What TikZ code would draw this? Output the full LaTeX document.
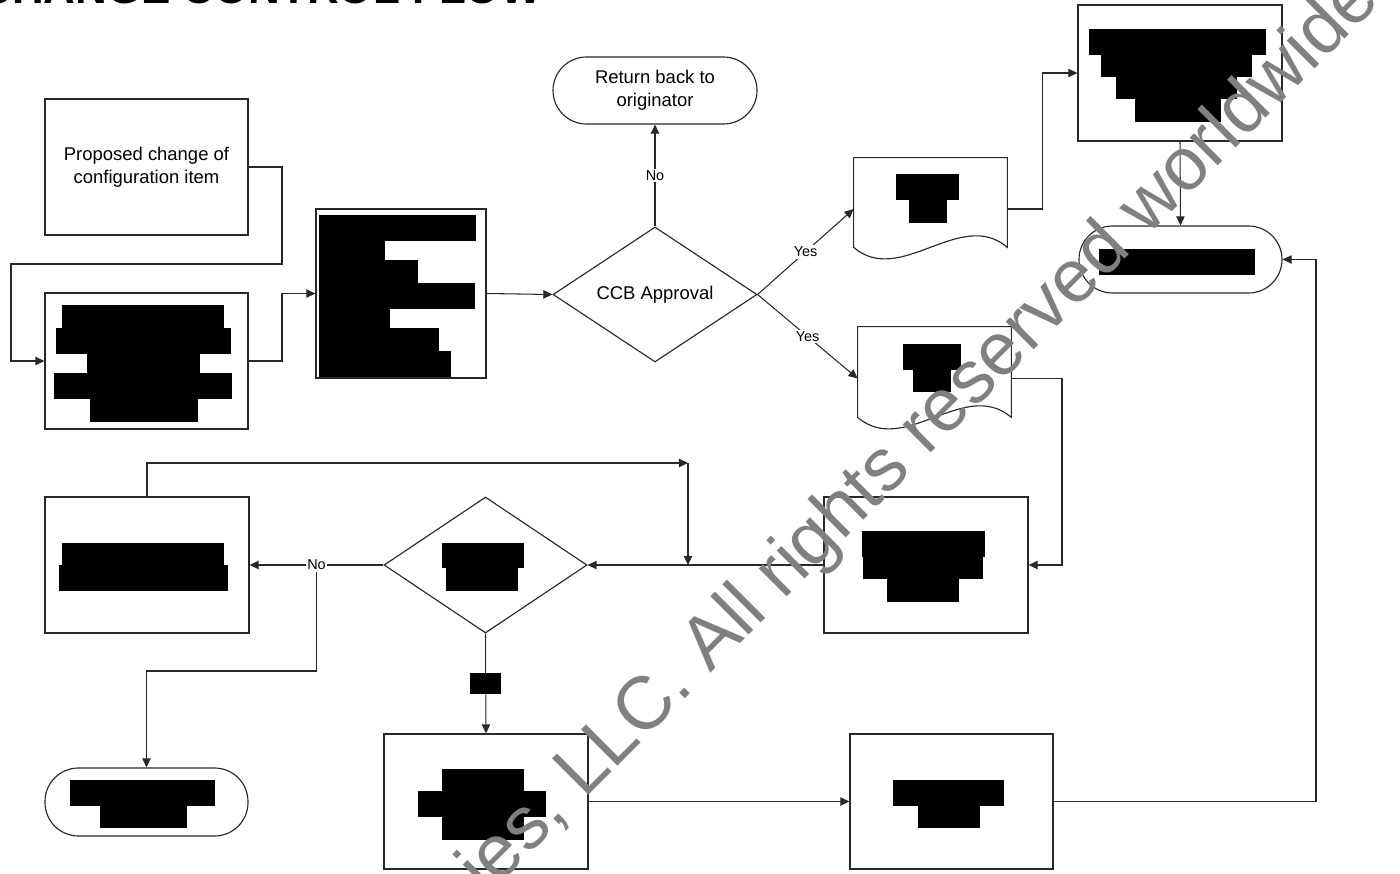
\documentclass[tikz,border=0pt]{standalone}
\usepackage{fontspec}
\setmainfont{Liberation Sans}
\usetikzlibrary{arrows.meta,shapes.geometric,calc}
\definecolor{wm}{RGB}{128,128,128}
\definecolor{ln}{RGB}{40,40,40}
\begin{document}
\begin{tikzpicture}[x=0.02cm,y=-0.02cm,
  sz/.style 2 args={minimum width=#1*0.02cm,minimum height=#2*0.02cm},
  box/.style={draw=ln,line width=0.65pt,rectangle,inner sep=0pt,align=center,
    font=\fontsize{10.5}{13}\selectfont},
  term/.style={box,rounded corners=0.67cm},
  decis/.style={box,diamond,aspect=1.5},
  ghost/.style={rectangle,inner sep=0pt},
  docline/.style={draw=ln,line width=0.65pt},
  conn/.style={draw=ln,line width=0.6pt,-{Triangle[length=5.2pt,width=4.8pt]}},
  lbl/.style={fill=white,inner sep=1pt,font=\fontsize{8.2}{9}\selectfont},
  red/.style={fill=black}
]
\useasboundingbox (0,0) rectangle (1400,873);

% title
\node[anchor=base west,inner sep=0pt,font=\fontsize{25}{25}\bfseries\selectfont] (title) at (-20,3) {CHANGE CONTROL FLOW};

% nodes
\node[box,sz={203}{136}] (prop) at (146.5,167) {Proposed change of\\configuration item};
\node[box,sz={203}{136}] (box2) at (146.5,361) {};
\node[box,sz={170}{169}] (box3) at (401,293.5) {};
\node[decis,sz={204}{135}] (dia1) at (655,294.5) {CCB Approval};
\node[term,sz={204}{67}] (ret) at (655,90.5) {Return back to\\originator};
\node[ghost,sz={153}{102}] (doc1) at (930.5,209) {};
\node[ghost,sz={153}{103}] (doc2) at (934.5,378.5) {};
\node[box,sz={204}{136}] (trbox) at (1180,73) {};
\node[term,sz={203}{67}] (term1) at (1180.5,259.5) {};
\node[box,sz={204}{136}] (boxR) at (926,565) {};
\node[decis,sz={203}{136}] (dia2) at (485.5,565) {};
\node[box,sz={204}{136}] (boxL) at (147,565) {};
\node[term,sz={203}{68}] (term2) at (146.5,802) {};
\node[box,sz={204}{135}] (boxB1) at (486,801.5) {};
\node[box,sz={203}{135}] (boxB2) at (951.5,801.5) {};

% document shapes
\draw[docline] (doc1.north west) -- (doc1.north east) -- ($(doc1.south east)+(0,-13)$)
  .. controls ($(doc1.south east)+(-47,-53)$) and ($(doc1.south east)+(-107,27)$) .. ($(doc1.south west)+(0,-13)$) -- cycle;
\draw[docline] (doc2.north west) -- (doc2.north east) -- ($(doc2.south east)+(0,-13)$)
  .. controls ($(doc2.south east)+(-47,-53)$) and ($(doc2.south east)+(-107,27)$) .. ($(doc2.south west)+(0,-13)$) -- cycle;

% bend points
\coordinate (b1) at (282,264);
\coordinate (b2) at (11,264);
\coordinate (b3) at (282,293.5);
\coordinate (b4) at (1042.5,209);
\coordinate (b5) at (1062,378.5);
\coordinate (j1) at (688,463);
\coordinate (j2) at (688,565);
\coordinate (b6) at (146.5,671);
\coordinate (b7) at (1316,801.5);

% connectors
\draw[conn] (prop.east) -| (b1) -- (b2) |- (box2.west);
\draw[conn] (box2.east) -| (b3) -- (box3.west);
\draw[conn] (box3.east) -- (dia1.west);
\draw[conn] (dia1.north) -- node[lbl] {No} (ret.south);
\draw[conn] (dia1.east) -- node[lbl] {Yes} (doc1.west);
\draw[conn] (dia1.east) -- node[lbl] {Yes} (doc2.west);
\draw[conn] (doc1.east) -- (b4) |- (trbox.west);
\draw[conn] (trbox.south) -- (term1.north);
\draw[conn] (doc2.east) -- (b5) |- (boxR.east);
\draw[conn] (boxR.west) -- (dia2.east);
\draw[conn] (boxL.north) |- (j1);
\draw[conn] (j1) -- (j2);
\draw[conn] (dia2.west) -- node[lbl] (no2) {No} (boxL.east);
\draw[conn] (no2.south) |- (b6) -- (term2.north);
\draw[conn] (dia2.south) -- node[red,sz={31}{21},inner sep=0pt] (yes2) {} (boxB1.north);
\draw[conn] (boxB1.east) -- (boxB2.west);
\draw[conn] (boxB2.east) -- (b7) |- (term1.east);

% redactions
\fill (62,305) rectangle (224,328);
\fill (56,328) rectangle (231,354);
\fill (87,354) rectangle (200,373);
\fill (54,373) rectangle (232,399);
\fill (90,399) rectangle (198,422);

\fill (319,215) rectangle (476,241);
\fill (319,241) rectangle (385,260);
\fill (319,260) rectangle (418,283);
\fill (319,283) rectangle (475,309);
\fill (319,309) rectangle (390,328);
\fill (319,328) rectangle (439,351);
\fill (319,351) rectangle (451,377);

\fill (896,174) rectangle (959,200);
\fill (909,200) rectangle (947,223);

\fill (1089,29) rectangle (1266,55);
\fill (1101,55) rectangle (1252,77);
\fill (1116,77) rectangle (1237,99);
\fill (1135,99) rectangle (1221,122);

\fill (1099,249) rectangle (1255,275);

\fill (903,344) rectangle (961,370);
\fill (913,370) rectangle (951,392);

\fill (862,531) rectangle (985,557);
\fill (863,557) rectangle (983,579);
\fill (887,579) rectangle (959,602);

\fill (62,543) rectangle (224,565);
\fill (59,565) rectangle (228,591);

\fill (442,543) rectangle (524,568);
\fill (446,568) rectangle (518,591);

\fill (70,780) rectangle (215,806);
\fill (100,806) rectangle (187,828);

\fill (442,769) rectangle (524,791);
\fill (418,791) rectangle (546,817);
\fill (442,817) rectangle (524,840);

\fill (893,780) rectangle (1004,806);
\fill (918,806) rectangle (980,828);

% watermark
\node[anchor=base west,inner sep=0pt,rotate=45,text=wm,font=\fontsize{42.5}{42.5}\selectfont] (wmark) at (487,897) {ies, LLC. All rights reserved worldwide};
\end{tikzpicture}
\end{document}
